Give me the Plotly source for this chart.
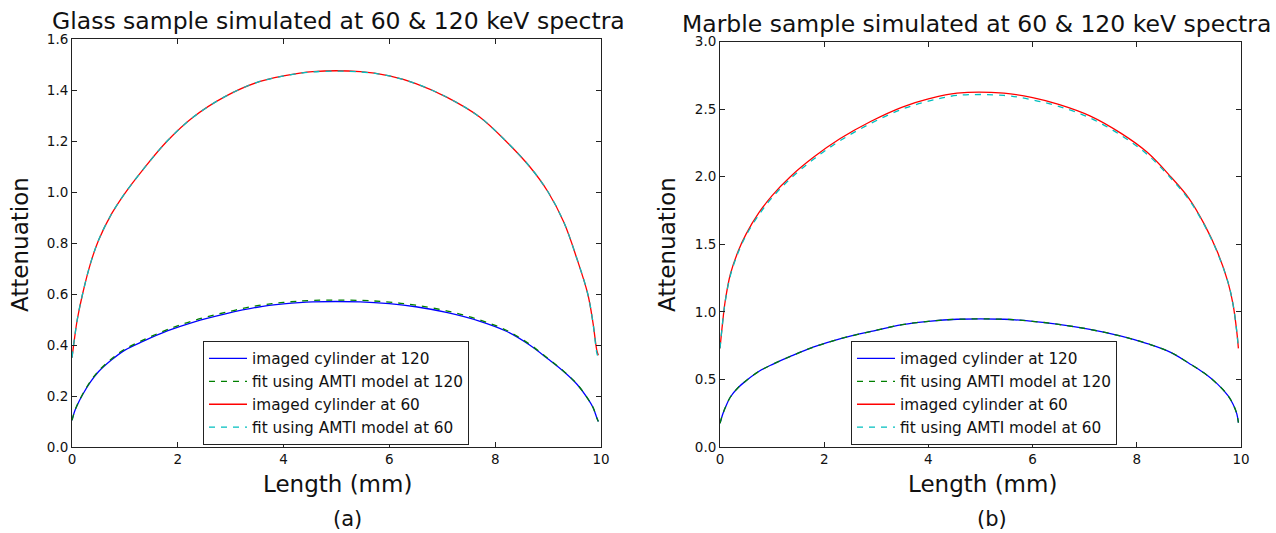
import plotly.graph_objects as go

# ---------------- data ----------------
x_len = [0, 0.05, 0.1, 0.2, 0.35, 0.5, 0.75, 1.0, 1.35, 1.8, 2.3, 2.9, 3.5, 4.0,
         4.55, 5.45, 6.0, 6.5, 7.1, 7.7, 8.2, 8.65, 9.0, 9.3, 9.55, 9.75, 9.85, 9.92, 9.95]

glass_img_120 = [0.105, 0.14, 0.165, 0.205, 0.255, 0.295, 0.342, 0.38, 0.415, 0.455, 0.49, 0.522, 0.548, 0.561,
                 0.569, 0.569, 0.562, 0.550, 0.527, 0.494, 0.455, 0.40, 0.345, 0.295, 0.245, 0.19, 0.155, 0.115, 0.10]
glass_fit_120 = [0.105, 0.14, 0.166, 0.207, 0.258, 0.298, 0.346, 0.384, 0.42, 0.46, 0.496, 0.528, 0.554, 0.567,
                 0.575, 0.575, 0.568, 0.556, 0.533, 0.499, 0.459, 0.403, 0.347, 0.296, 0.246, 0.19, 0.155, 0.115, 0.10]
glass_img_60 = [0.35, 0.43, 0.50, 0.60, 0.72, 0.81, 0.915, 0.995, 1.09, 1.20, 1.295, 1.375, 1.43, 1.455,
                1.472, 1.472, 1.455, 1.425, 1.37, 1.295, 1.20, 1.10, 1.00, 0.88, 0.735, 0.60, 0.485, 0.38, 0.36]
glass_fit_60 = [0.35, 0.43, 0.50, 0.60, 0.72, 0.81, 0.915, 0.995, 1.09, 1.20, 1.295, 1.375, 1.43, 1.455,
                1.471, 1.471, 1.455, 1.425, 1.37, 1.295, 1.20, 1.10, 1.00, 0.88, 0.735, 0.60, 0.485, 0.37, 0.35]

marble_img_120 = [0.175, 0.24, 0.29, 0.37, 0.44, 0.49, 0.56, 0.61, 0.67, 0.74, 0.80, 0.855, 0.905, 0.93,
                  0.945, 0.945, 0.93, 0.907, 0.87, 0.82, 0.765, 0.70, 0.62, 0.545, 0.465, 0.38, 0.315, 0.245, 0.18]
marble_fit_120 = [0.175, 0.24, 0.29, 0.37, 0.44, 0.49, 0.56, 0.61, 0.67, 0.74, 0.80, 0.855, 0.905, 0.93,
                  0.945, 0.945, 0.93, 0.907, 0.87, 0.82, 0.765, 0.70, 0.62, 0.545, 0.465, 0.38, 0.315, 0.245, 0.18]
marble_img_60 = [0.73, 0.92, 1.08, 1.28, 1.45, 1.575, 1.735, 1.86, 2.0, 2.145, 2.28, 2.41, 2.515, 2.575,
                 2.618, 2.618, 2.585, 2.535, 2.45, 2.32, 2.18, 2.0, 1.84, 1.645, 1.44, 1.22, 1.05, 0.85, 0.73]
marble_fit_60 = [0.73, 0.92, 1.075, 1.27, 1.44, 1.565, 1.72, 1.845, 1.985, 2.13, 2.265, 2.395, 2.5, 2.558,
                 2.601, 2.601, 2.568, 2.52, 2.435, 2.305, 2.165, 1.99, 1.83, 1.64, 1.435, 1.22, 1.05, 0.85, 0.73]

legend_labels = ["imaged cylinder at 120", "fit using AMTI model at 120",
                 "imaged cylinder at 60", "fit using AMTI model at 60"]
titles = ["Glass sample simulated at 60 & 120 keV spectra",
          "Marble sample simulated at 60 & 120 keV spectra"]
panel_tags = ["(a)", "(b)"]
x_ticks = [0, 2, 4, 6, 8, 10]
y_ticks_glass = [0.0, 0.2, 0.4, 0.6, 0.8, 1.0, 1.2, 1.4, 1.6]
y_ticks_marble = [0.0, 0.5, 1.0, 1.5, 2.0, 2.5, 3.0]

# ---------------- styling ----------------
FONT = "DejaVu Sans"
colors = ["#0000ff", "#008000", "#ff0000", "#00bfbf"]
dashes = ["solid", "6px,6px", "solid", "6px,6px"]

W, H = 1276, 533
ML, MR, MT, MB = 72, 35, 39, 86
PW, PH = W - ML - MR, H - MT - MB


def px(xp):
    return (xp - ML) / PW


def py(yp):
    return (H - MB - yp) / PH


fig = go.Figure()

panels = [
    ("x", "y", "legend", [glass_img_120, glass_fit_120, glass_img_60, glass_fit_60]),
    ("x2", "y2", "legend2", [marble_img_120, marble_fit_120, marble_img_60, marble_fit_60]),
]
for xa, ya, lg, series in panels:
    for i, ys in enumerate(series):
        fig.add_trace(go.Scatter(
            x=x_len, y=ys, mode="lines", name=legend_labels[i],
            line=dict(color=colors[i], width=1.3, dash=dashes[i], shape="spline", smoothing=1.0),
            xaxis=xa, yaxis=ya, legend=lg, legendgroup=f"{lg}{i}",
            showlegend=True,
        ))

axis_common = dict(
    showline=True, linecolor="#222", linewidth=1, mirror="ticks",
    ticks="inside", ticklen=5, tickwidth=1, tickcolor="#222",
    showgrid=False, zeroline=False,
    tickfont=dict(family=FONT, size=13.5, color="#111"),
)

legend_common = dict(
    xanchor="left", yanchor="top",
    bordercolor="#222", borderwidth=1, bgcolor="white",
    font=dict(family=FONT, size=15.3, color="#111"), tracegroupgap=0,
    itemwidth=38,
)

fig.update_layout(
    width=W, height=H,
    margin=dict(l=ML, r=MR, t=MT, b=MB),
    paper_bgcolor="white", plot_bgcolor="white",
    font=dict(family=FONT, color="#111"),
    xaxis=dict(domain=[0, px(601)], range=[0, 10], tickvals=x_ticks, anchor="y", **axis_common),
    yaxis=dict(domain=[0, 1], range=[0, 1.6], tickvals=y_ticks_glass, tickformat=".1f",
               anchor="x", **axis_common),
    xaxis2=dict(domain=[px(720), 1], range=[0, 10], tickvals=x_ticks, anchor="y2", **axis_common),
    yaxis2=dict(domain=[0, py(41.5)], range=[0, 3.0], tickvals=y_ticks_marble, tickformat=".1f",
                anchor="x2", **axis_common),
    legend=dict(x=px(203), y=py(341), **legend_common),
    legend2=dict(x=px(851), y=py(341), **legend_common),
)

ann = []
ann.append(dict(text=titles[0], x=px(338), y=py(21), xref="paper", yref="paper",
                xanchor="center", yanchor="middle", showarrow=False,
                font=dict(family=FONT, size=23.5, color="#111")))
ann.append(dict(text=titles[1], x=px(976), y=py(24), xref="paper", yref="paper",
                xanchor="center", yanchor="middle", showarrow=False,
                font=dict(family=FONT, size=23.5, color="#111")))
for cx, tag in [(337, panel_tags[0]), (982, panel_tags[1])]:
    ann.append(dict(text="Length (mm)", x=px(cx), y=py(484), xref="paper", yref="paper",
                    xanchor="center", yanchor="middle", showarrow=False,
                    font=dict(family=FONT, size=23, color="#111")))
    ann.append(dict(text=tag, x=px(cx + 10), y=py(519), xref="paper", yref="paper",
                    xanchor="center", yanchor="middle", showarrow=False,
                    font=dict(family=FONT, size=21, color="#111")))
for cx in [20, 667]:
    ann.append(dict(text="Attenuation", x=px(cx), y=py(245), xref="paper", yref="paper",
                    xanchor="center", yanchor="middle", showarrow=False, textangle=-90,
                    font=dict(family=FONT, size=23, color="#111")))
fig.update_layout(annotations=ann)

fig.write_html("out.html", post_script="document.body.style.margin='0';",
               config={"displayModeBar": False})
